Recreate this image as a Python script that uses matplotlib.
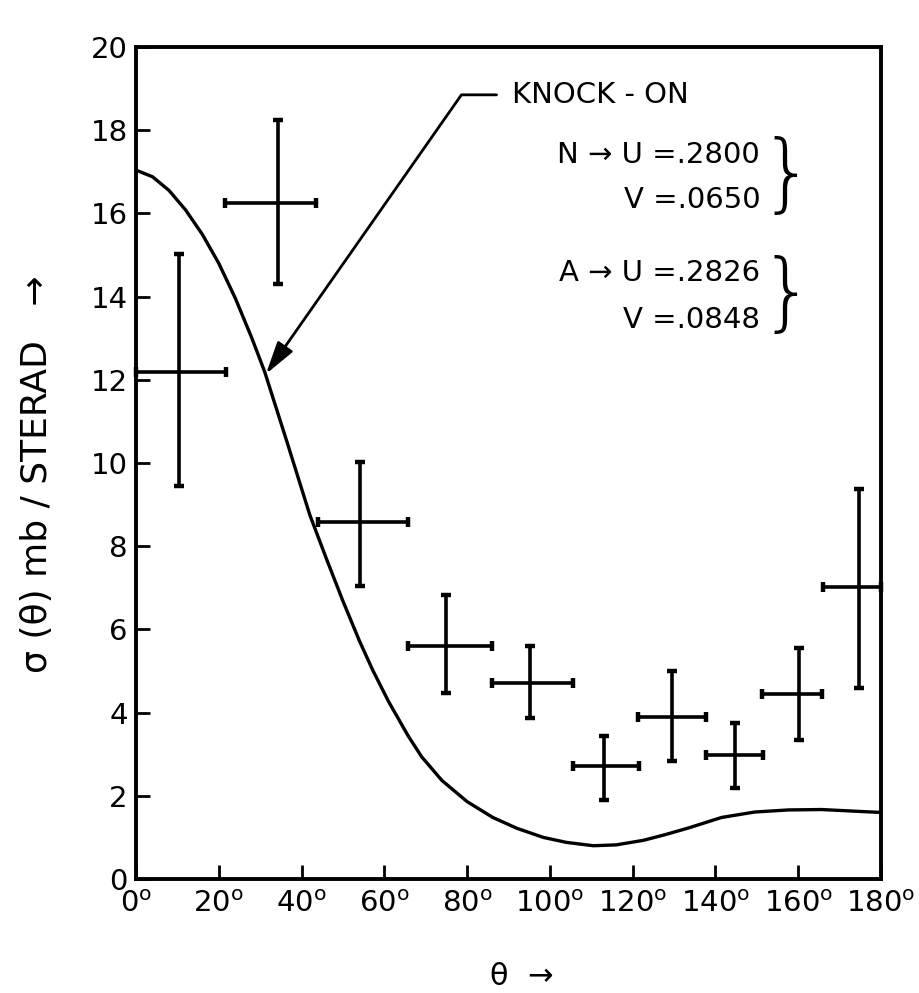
import matplotlib
matplotlib.use("Agg")
import matplotlib.pyplot as plt

plt.rcParams['font.family'] = ['DejaVu Sans']
plt.rcParams['mathtext.default'] = 'regular'

# Measured data points (theta in degrees, sigma in mb/sterad)
theta = [10.4, 34.2, 54.0, 74.9, 95.2, 113.0, 129.6, 144.7, 160.2, 174.7]
sigma = [12.19, 16.24, 8.58, 5.60, 4.72, 2.71, 3.89, 2.99, 4.44, 7.01]
theta_lo = [0.0, 21.4, 44.0, 65.6, 86.1, 105.6, 121.4, 137.6, 151.2, 166.1]
theta_hi = [21.7, 43.6, 65.7, 86.1, 105.6, 121.6, 137.6, 151.5, 165.8, 180.0]
sigma_hi = [15.03, 18.24, 10.03, 6.82, 5.60, 3.44, 5.00, 3.76, 5.56, 9.38]
sigma_lo = [9.44, 14.30, 7.04, 4.47, 3.88, 1.89, 2.83, 2.19, 3.35, 4.59]

# Knock-on curve
curve_theta = [0, 4, 8, 12, 16, 20, 24, 28, 31.1, 36.5, 42, 46, 50, 54, 57.2, 61,
               65.7, 69, 73.9, 80, 86.2, 92, 98.4, 104, 110.5, 116, 122.6, 128,
               133.6, 141.5, 149.5, 157.6, 165.6, 173.7, 180]
curve_sigma = [17.04, 16.88, 16.55, 16.08, 15.50, 14.80, 13.96, 13.00, 12.19, 10.50,
               8.75, 7.70, 6.68, 5.72, 5.02, 4.27, 3.45, 2.94, 2.37, 1.86, 1.48,
               1.22, 1.00, 0.88, 0.80, 0.82, 0.93, 1.07, 1.23, 1.48, 1.61, 1.66,
               1.67, 1.63, 1.60]

xticks = [0, 20, 40, 60, 80, 100, 120, 140, 160, 180]
yticks = [0, 2, 4, 6, 8, 10, 12, 14, 16, 18, 20]
xtick_labels = [r'$\mathregular{%d^o}$' % t for t in xticks]

legend_lines = ["N → U =.2800", "V =.0650", "A → U =.2826", "V =.0848"]

W, H = 919, 993
fig = plt.figure(figsize=(W / 100, H / 100), dpi=100)
ax_l, ax_t, ax_w, ax_h = 136, 47, 745, 832
ax = fig.add_axes([ax_l / W, 1 - (ax_t + ax_h) / H, ax_w / W, ax_h / H])

ax.plot(curve_theta, curve_sigma, color='black', lw=2.4, solid_joinstyle='round')

xerr = [[t - lo for t, lo in zip(theta, theta_lo)], [hi - t for t, hi in zip(theta, theta_hi)]]
yerr = [[s - lo for s, lo in zip(sigma, sigma_lo)], [hi - s for s, hi in zip(sigma, sigma_hi)]]
ax.errorbar(theta, sigma, xerr=xerr, yerr=yerr, fmt='none', ecolor='black',
            elinewidth=2.6, capsize=3.5, capthick=3.2, clip_on=False)

ax.set_xlim(0, 180)
ax.set_ylim(0, 20)
ax.set_xticks(xticks)
ax.set_xticklabels(xtick_labels)
ax.set_yticks(yticks)
ax.tick_params(direction='in', length=10, width=2.0, labelsize=21, pad=6, colors='black')
ax.tick_params(axis='x', pad=8)
for sp in ax.spines.values():
    sp.set_linewidth(2.8)

# KNOCK-ON annotation with leader line
ax.annotate("KNOCK - ON", xy=(31.4, 12.14), xytext=(90.8, 18.85),
            ha='left', va='center', fontsize=21,
            arrowprops=dict(arrowstyle='-|>,head_length=1.0,head_width=0.28',
                            connectionstyle='angle,angleA=0,angleB=55',
                            color='black', lw=2.0, shrinkA=9, shrinkB=0,
                            relpos=(0.0, 0.5), mutation_scale=20))

# parameter text
ys = [17.40, 16.32, 14.57, 13.44]
for s, y in zip(legend_lines, ys):
    ax.text(150.8, y, s, ha='right', va='center', fontsize=21)
for y in [16.86, 14.0]:
    ax.text(150.6, y, '}', ha='left', va='center', fontsize=62, fontweight='ultralight')

fig.text(37 / W, 1 - 474 / H, "σ (θ) mb / STERAD   →", rotation=90,
         ha='center', va='center', fontsize=26)
fig.text(522 / W, 1 - 962 / H, "θ  →", ha='center', va='top', fontsize=22)

fig.savefig("out.png", dpi=100)
